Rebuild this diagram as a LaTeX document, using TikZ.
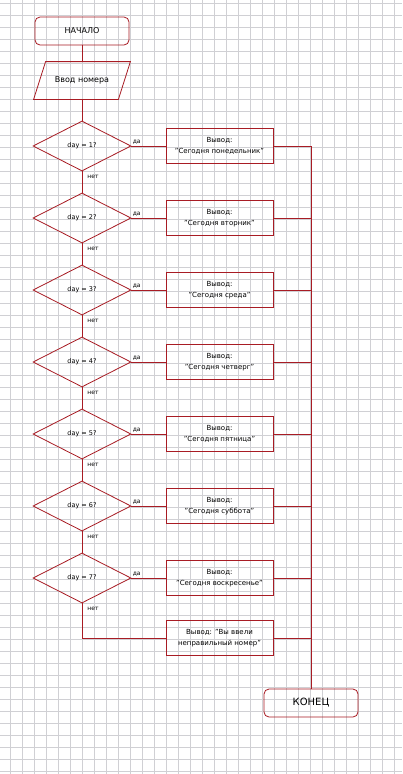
\documentclass[tikz,border=0pt]{standalone}
\usepackage{fontspec}
\setmainfont{DejaVu Sans}
\usetikzlibrary{shapes.geometric}
\definecolor{linered}{RGB}{168,28,36}
\definecolor{gridgray}{RGB}{208,208,212}

\begin{document}
\begin{tikzpicture}[x=1pt,y=-1pt,line width=0.8pt,
    term/.style={draw=linered, rectangle, rounded corners=5pt, minimum width=94pt, minimum height=28pt, inner sep=0pt},
    inbox/.style={rectangle, minimum width=96pt, minimum height=37pt, inner sep=0pt, font=\fontsize{8}{9}\selectfont},
    cond/.style={draw=linered, diamond, aspect=2, minimum width=98pt, minimum height=50pt, inner sep=0pt, font=\fontsize{6.5}{8}\selectfont},
    outbox/.style={draw=linered, rectangle, minimum width=107pt, minimum height=35pt, inner sep=0pt, align=center, font=\fontsize{7}{11.5}\selectfont},
    flow/.style={draw=linered},
    yes/.style={font=\fontsize{6}{7}\selectfont, inner sep=1pt, anchor=south west},
    no/.style={font=\fontsize{6}{7}\selectfont, inner sep=1pt, right, xshift=4pt}
  ]
      % grid paper
      \useasboundingbox (0,0) rectangle (402,774);
      \fill[white] (0,0) rectangle (402,774);
      \foreach \gx in {0,...,32}
        \draw[gridgray, line width=0.6pt] ({10.7+12*\gx},0) -- ({10.7+12*\gx},774);
      \foreach \gy in {0,...,64}
        \draw[gridgray, line width=0.6pt] (0,{3.3+12*\gy}) -- (402,{3.3+12*\gy});

      \node[term, font=\fontsize{8}{9}\selectfont] (start) at (82,31) {НАЧАЛО};
      \node[inbox] (input) at (82,80.5) {Ввод номера};
      % slanted outline of the input block
      \draw[flow] ([xshift=12pt]input.north west) -- (input.north east)
        -- ([xshift=-12pt]input.south east) -- (input.south west) -- cycle;

      \node[cond] (d1) at (82,146) {day = 1?};
      \node[cond] (d2) at (82,218) {day = 2?};
      \node[cond] (d3) at (82,290) {day = 3?};
      \node[cond] (d4) at (82,362) {day = 4?};
      \node[cond] (d5) at (82,434) {day = 5?};
      \node[cond] (d6) at (82,506) {day = 6?};
      \node[cond] (d7) at (82,578) {day = 7?};

      \node[outbox] (b1) at (219.5,146) {Вывод:\\"Сегодня понедельник"};
      \node[outbox] (b2) at (219.5,218) {Вывод:\\"Сегодня вторник"};
      \node[outbox] (b3) at (219.5,290) {Вывод:\\"Сегодня среда"};
      \node[outbox] (b4) at (219.5,362) {Вывод:\\"Сегодня четверг"};
      \node[outbox] (b5) at (219.5,434) {Вывод:\\"Сегодня пятница"};
      \node[outbox] (b6) at (219.5,506) {Вывод:\\"Сегодня суббота"};
      \node[outbox] (b7) at (219.5,578) {Вывод:\\"Сегодня воскресенье"};
      \node[outbox] (b8) at (219.5,638) {Вывод: "Вы ввели\\неправильный номер"};

      \node[term, font=\fontsize{10}{12}\selectfont] (end) at (311,703) {КОНЕЦ};

      \draw[flow] (start) -- (input);
      \draw[flow] (input) -- (d1);

      \draw[flow] (d1) -- node[no, pos=0.25] {нет} (d2);
      \draw[flow] (d2) -- node[no, pos=0.25] {нет} (d3);
      \draw[flow] (d3) -- node[no, pos=0.25] {нет} (d4);
      \draw[flow] (d4) -- node[no, pos=0.25] {нет} (d5);
      \draw[flow] (d5) -- node[no, pos=0.25] {нет} (d6);
      \draw[flow] (d6) -- node[no, pos=0.25] {нет} (d7);
      \draw[flow] (d7) -- node[no, pos=0.15] {нет} (d7 |- b8) -- (b8);

      \draw[flow] (d1) -- node[yes, pos=0] {да} (b1);
      \draw[flow] (d2) -- node[yes, pos=0] {да} (b2);
      \draw[flow] (d3) -- node[yes, pos=0] {да} (b3);
      \draw[flow] (d4) -- node[yes, pos=0] {да} (b4);
      \draw[flow] (d5) -- node[yes, pos=0] {да} (b5);
      \draw[flow] (d6) -- node[yes, pos=0] {да} (b6);
      \draw[flow] (d7) -- node[yes, pos=0] {да} (b7);

      \draw[flow] (b1) -- (b1 -| end);
      \draw[flow] (b2) -- (b2 -| end);
      \draw[flow] (b3) -- (b3 -| end);
      \draw[flow] (b4) -- (b4 -| end);
      \draw[flow] (b5) -- (b5 -| end);
      \draw[flow] (b6) -- (b6 -| end);
      \draw[flow] (b7) -- (b7 -| end);
      \draw[flow] (b8) -- (b8 -| end);
      \draw[flow] (b1 -| end) -- (end);
\end{tikzpicture}
\end{document}
